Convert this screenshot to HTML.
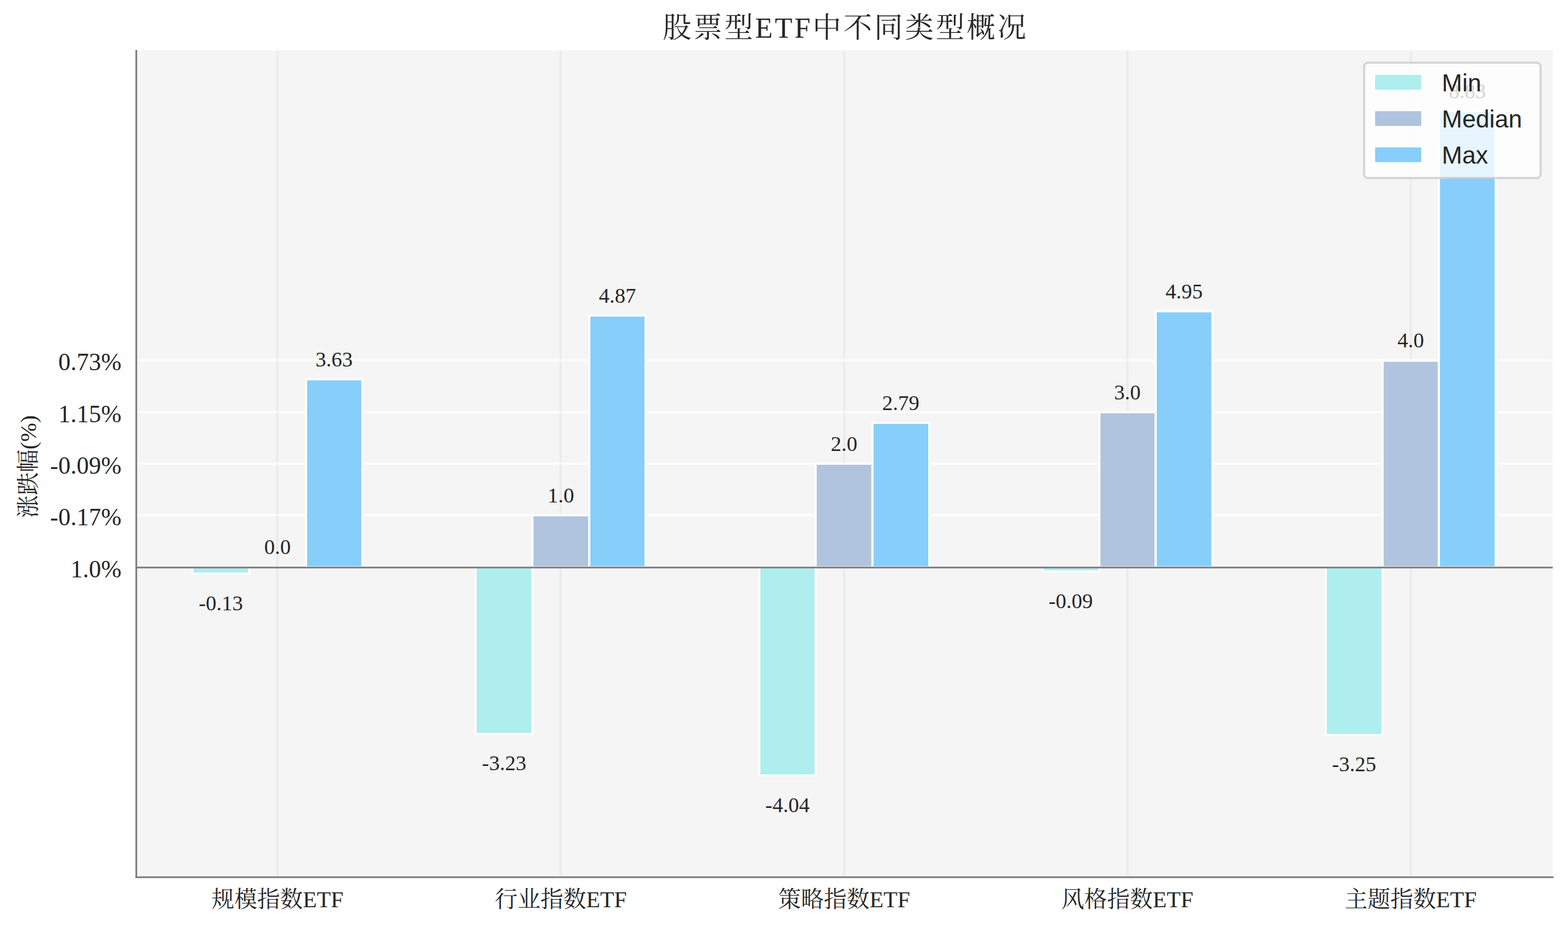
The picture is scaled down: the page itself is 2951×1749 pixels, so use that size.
<!DOCTYPE html>
<html lang="zh-CN">
<head>
<meta charset="utf-8">
<title>股票型ETF中不同类型概况</title>
<style>
html,body{margin:0;padding:0;background:#ffffff;}
body{width:2951px;height:1749px;overflow:hidden;font-family:"Liberation Sans",sans-serif;}
svg{display:block;}
.num{font-family:"Liberation Serif","Noto Serif CJK SC",serif;font-size:40px;fill:#262626;text-anchor:middle;}
.ytick{font-family:"Liberation Serif","Noto Serif CJK SC",serif;font-size:46px;fill:#262626;text-anchor:end;}
.cat{font-family:"Liberation Serif","Noto Serif CJK SC",serif;font-size:43px;fill:#262626;text-anchor:middle;}
.leg{font-family:"Liberation Sans",sans-serif;font-size:46px;fill:#262626;text-anchor:start;}
</style>
</head>
<body>
<svg width="2951" height="1749" viewBox="0 0 2951 1749" role="img" aria-label="股票型ETF中不同类型概况">
<rect x="0" y="0" width="2951" height="1749" fill="#ffffff"/>
<rect x="256.50" y="95.00" width="2665.70" height="1556.50" fill="#f5f5f5"/>
<rect x="519.91" y="95.00" width="4.17" height="1556.50" fill="#ebebeb"/>
<rect x="1052.91" y="95.00" width="4.17" height="1556.50" fill="#ebebeb"/>
<rect x="1586.91" y="95.00" width="4.17" height="1556.50" fill="#ebebeb"/>
<rect x="2119.91" y="95.00" width="4.17" height="1556.50" fill="#ebebeb"/>
<rect x="2652.91" y="95.00" width="4.17" height="1556.50" fill="#ebebeb"/>
<rect x="256.50" y="1065.91" width="2665.70" height="4.17" fill="#ffffff" fill-opacity="0.75"/>
<rect x="256.50" y="967.91" width="2665.70" height="4.17" fill="#ffffff" fill-opacity="0.75"/>
<rect x="256.50" y="870.91" width="2665.70" height="4.17" fill="#ffffff" fill-opacity="0.75"/>
<rect x="256.50" y="773.91" width="2665.70" height="4.17" fill="#ffffff" fill-opacity="0.75"/>
<rect x="256.50" y="675.91" width="2665.70" height="4.17" fill="#ffffff" fill-opacity="0.75"/>
<rect x="362.00" y="1068.00" width="107.00" height="12.00" fill="#afeeee" stroke="#ffffff" stroke-width="4.17"/>
<rect x="469.00" y="1068.00" width="107.00" height="0.00" fill="#b0c4de" stroke="#ffffff" stroke-width="4.17"/>
<rect x="576.00" y="714.00" width="106.00" height="354.00" fill="#87cefa" stroke="#ffffff" stroke-width="4.17"/>
<rect x="895.00" y="1068.00" width="107.00" height="314.00" fill="#afeeee" stroke="#ffffff" stroke-width="4.17"/>
<rect x="1002.00" y="970.00" width="107.00" height="98.00" fill="#b0c4de" stroke="#ffffff" stroke-width="4.17"/>
<rect x="1109.00" y="594.00" width="106.00" height="474.00" fill="#87cefa" stroke="#ffffff" stroke-width="4.17"/>
<rect x="1429.00" y="1068.00" width="106.00" height="392.00" fill="#afeeee" stroke="#ffffff" stroke-width="4.17"/>
<rect x="1535.00" y="873.00" width="107.00" height="195.00" fill="#b0c4de" stroke="#ffffff" stroke-width="4.17"/>
<rect x="1642.00" y="796.00" width="107.00" height="272.00" fill="#87cefa" stroke="#ffffff" stroke-width="4.17"/>
<rect x="1962.00" y="1068.00" width="107.00" height="8.00" fill="#afeeee" stroke="#ffffff" stroke-width="4.17"/>
<rect x="2069.00" y="776.00" width="106.00" height="292.00" fill="#b0c4de" stroke="#ffffff" stroke-width="4.17"/>
<rect x="2175.00" y="586.00" width="107.00" height="482.00" fill="#87cefa" stroke="#ffffff" stroke-width="4.17"/>
<rect x="2495.00" y="1068.00" width="107.00" height="316.00" fill="#afeeee" stroke="#ffffff" stroke-width="4.17"/>
<rect x="2602.00" y="679.00" width="106.00" height="389.00" fill="#b0c4de" stroke="#ffffff" stroke-width="4.17"/>
<rect x="2708.00" y="209.00" width="107.00" height="859.00" fill="#87cefa" stroke="#ffffff" stroke-width="4.17"/>
<rect x="256.50" y="1066.79" width="2665.70" height="3.33" fill="#808080"/>
<text class="num" x="415.58" y="1148.64">-0.13</text>
<text class="num" x="522.22" y="1043.30">0.0</text>
<text class="num" x="628.86" y="690.28">3.63</text>
<text class="num" x="948.78" y="1450.12">-3.23</text>
<text class="num" x="1055.42" y="946.05">1.0</text>
<text class="num" x="1162.06" y="569.69">4.87</text>
<text class="num" x="1481.98" y="1528.89">-4.04</text>
<text class="num" x="1588.62" y="848.80">2.0</text>
<text class="num" x="1695.26" y="771.97">2.79</text>
<text class="num" x="2015.18" y="1144.75">-0.09</text>
<text class="num" x="2121.82" y="751.55">3.0</text>
<text class="num" x="2228.46" y="561.91">4.95</text>
<text class="num" x="2548.38" y="1452.06">-3.25</text>
<text class="num" x="2655.02" y="654.30">4.0</text>
<text class="num" x="2761.66" y="184.58">8.83</text>
<rect x="254.84" y="94.00" width="3.33" height="1559.16" fill="#808080"/>
<rect x="254.84" y="1649.84" width="2669.03" height="3.33" fill="#808080"/>
<text class="ytick" x="228.5" y="1086.80">1.0%</text>
<text class="ytick" x="228.5" y="988.80">-0.17%</text>
<text class="ytick" x="228.5" y="891.80">-0.09%</text>
<text class="ytick" x="228.5" y="794.80">1.15%</text>
<text class="ytick" x="228.5" y="696.80">0.73%</text>
<text class="cat" x="522.22" y="1707.80">规模指数ETF</text>
<text class="cat" x="1055.42" y="1707.80">行业指数ETF</text>
<text class="cat" x="1588.62" y="1707.80">策略指数ETF</text>
<text class="cat" x="2121.82" y="1707.80">风格指数ETF</text>
<text class="cat" x="2655.02" y="1707.80">主题指数ETF</text>
<text class="cat" x="0" y="0" transform="translate(68.30 878.40) rotate(-90)">涨跌幅(%)</text>
<text x="1591.35" y="70.85" font-family="&quot;Liberation Serif&quot;,&quot;Noto Serif CJK SC&quot;,serif" font-size="54" letter-spacing="4" fill="#262626" text-anchor="middle">股票型ETF中不同类型概况</text>
<rect x="2567.30" y="118.00" width="332.10" height="217.10" rx="7.3" ry="7.3" fill="#ffffff" fill-opacity="0.8" stroke="#cccccc" stroke-opacity="0.8" stroke-width="4.17"/>
<rect x="2585.90" y="139.00" width="91.00" height="32.00" fill="#afeeee" stroke="#ffffff" stroke-width="4.17"/>
<text class="leg" x="2713.60" y="172.00">Min</text>
<rect x="2585.90" y="207.20" width="91.00" height="32.00" fill="#b0c4de" stroke="#ffffff" stroke-width="4.17"/>
<text class="leg" x="2713.60" y="240.20">Median</text>
<rect x="2585.90" y="275.40" width="91.00" height="32.00" fill="#87cefa" stroke="#ffffff" stroke-width="4.17"/>
<text class="leg" x="2713.60" y="308.40">Max</text>
</svg>
</body>
</html>
